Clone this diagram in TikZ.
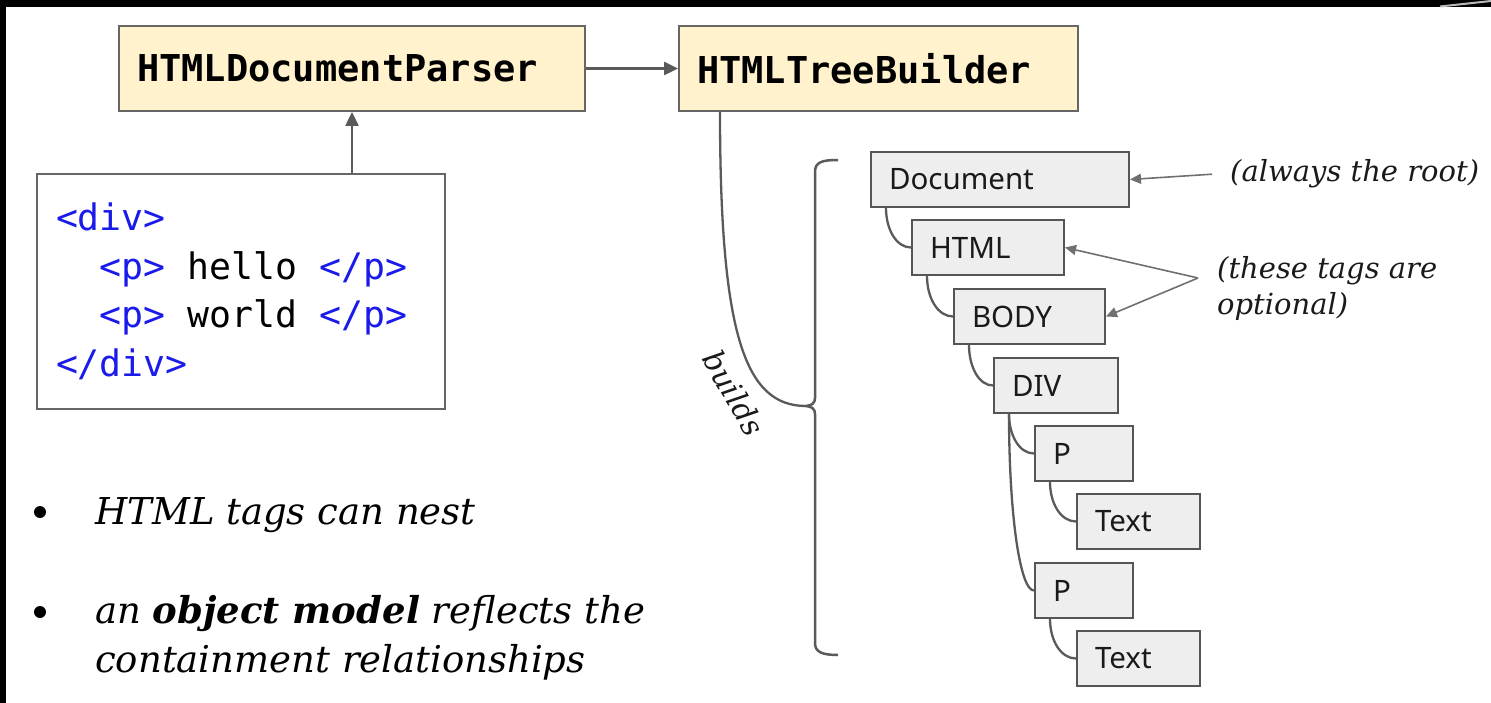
\documentclass[tikz,border=0pt]{standalone}
\usepackage{fontspec}
\usetikzlibrary{arrows.meta,calc}

\newfontfamily\codefont{DejaVu Sans Mono}
\newfontfamily\treefont{Noto Sans}
\newfontfamily\notefont{DejaVu Serif}

\definecolor{hdrfill}{HTML}{FFF2CC}
\definecolor{hdrline}{HTML}{666666}
\definecolor{treefill}{HTML}{EEEEEE}
\definecolor{treeline}{HTML}{555555}
\definecolor{linkgray}{HTML}{5A5A5A}
\definecolor{notegray}{HTML}{707070}
\definecolor{tagblue}{HTML}{1A1AEB}
\definecolor{inkdark}{HTML}{1A1A1A}

\newcommand{\tagc}[1]{\textcolor{tagblue}{#1}}
% one monospace cell of blank space
\newcommand{\msp}{\hspace*{0.602em}}

\tikzset{
  hdr/.style={draw=hdrline, fill=hdrfill, line width=2pt, anchor=north west,
    inner xsep=18pt, inner ysep=0pt, minimum height=85pt, align=left,
    text=black, font=\codefont\bfseries\fontsize{37}{40}\selectfont},
  codebox/.style={draw=hdrline, fill=white, line width=2pt, anchor=north west,
    inner xsep=19pt, inner ysep=0pt, minimum width=408pt, minimum height=235pt,
    text width=370pt, align=left, text=black,
    font=\codefont\fontsize{36.5}{48.5}\selectfont},
  tbox/.style={draw=treeline, fill=treefill, line width=2pt, anchor=north west,
    inner xsep=18pt, inner ysep=0pt, minimum height=55pt, align=left,
    text=inkdark, font=\treefont\fontsize{29.5}{34}\selectfont},
  note/.style={inner sep=0pt, text=inkdark,
    font=\notefont\itshape\fontsize{29}{36}\selectfont},
  bullettext/.style={inner sep=0pt, text=black, align=left,
    font=\notefont\itshape\fontsize{37}{49}\selectfont},
  dot/.style={circle, fill=black, inner sep=0pt, minimum size=12pt},
  arrow/.style={draw=linkgray, line width=2.5pt,
    -{Triangle[length=14pt,width=13pt]}},
  notearrow/.style={draw=notegray, line width=1.6pt,
    -{Triangle[length=11pt,width=10pt]}},
  link/.style={draw=linkgray, line width=2.3pt},
}

\begin{document}
\begin{tikzpicture}[x=1pt, y=-1pt]
  \useasboundingbox (0,0) rectangle (1491,703);
  % slide frame
  \fill[black] (0,0) rectangle (1491,703);
  \fill[white] (6,7) rectangle (1491,703);
  \draw[gray!55, line width=2pt] (1440,6.5) .. controls (1465,4) .. (1491,1);

  % parser pipeline
  \node[hdr, minimum width=466pt, text width=430pt] (parser) at (118,25) {HTMLDocumentParser};
  \node[hdr, minimum width=399pt, text width=363pt] (builder) at (678,25) {HTMLTreeBuilder};
  \node[codebox] (code) at (36,173) {%
    \tagc{<div>}\\
    \msp\msp\tagc{<p>}\msp hello\msp\tagc{</p>}\\
    \msp\msp\tagc{<p>}\msp world\msp\tagc{</p>}\\
    \tagc{</div>}};

  \draw[arrow] ([xshift=316pt]code.north west) -- ([xshift=316pt]code.north west |- parser.south);
  \draw[arrow] (parser.east) -- (builder.west);

  % document tree
  \node[tbox, minimum width=258pt, text width=222pt] (doc)  at (870,151) {Document};
  \node[tbox, minimum width=152pt, text width=116pt] (html) at (911,219) {HTML};
  \node[tbox, minimum width=151pt, text width=115pt] (body) at (953,288) {BODY};
  \node[tbox, minimum width=124pt, text width=88pt]  (div)  at (993,357) {DIV};
  \node[tbox, minimum width=98pt,  text width=62pt]  (p1)   at (1034,425) {P};
  \node[tbox, minimum width=123pt, text width=87pt]  (t1)   at (1076,493) {Text};
  \node[tbox, minimum width=98pt,  text width=62pt]  (p2)   at (1034,562) {P};
  \node[tbox, minimum width=123pt, text width=87pt]  (t2)   at (1076,630) {Text};

  \foreach \p/\c in {doc/html, html/body, body/div, div/p1, div/p2, p1/t1, p2/t2} {
    \coordinate (s) at ([xshift=16pt]\p.south west);
    \draw[link] (s) .. controls ($(s)!0.55!(s |- \c.west)$) and ($(s |- \c.west)!0.42!(\c.west)$) .. (\c.west);
  }

  % bracket grouping the tree
  \coordinate (tip) at (806,406);
  \draw[link, line width=2.5pt]
    (838,160) .. controls (822,160) and (815,162) .. (815,172)
    -- (815,398) .. controls (815,403) and (812,405.5) .. (tip)
    .. controls (812,406.5) and (815,409) .. (815,414)
    -- (815,643) .. controls (815,652) and (822,655) .. (838,655);

  % builder to tree
  \draw[link] ([xshift=42pt]builder.south west) .. controls (720,335) and (745,406) .. (tip);
  \node[note, rotate=-60, font=\notefont\itshape\fontsize{30}{36}\selectfont] (builds) at (734,393) {builds};

  % annotations
  \node[note, anchor=base west] (root) at (1230,182) {(always the root)};
  \draw[notearrow] ([xshift=-18pt]root.west) -- (doc.east);

  \node[note, anchor=north west, align=left] (opt) at (1217,256) {(these tags are\\optional)};
  \coordinate (fork) at (1198,278);
  \draw[notearrow] (fork) -- (html.east);
  \draw[notearrow] (fork) -- (body.east);

  % bullet list
  \node[dot] (d1) at (40,512) {};
  \node[bullettext, anchor=base west] (b1) at (95,524) {HTML tags can nest};
  \node[dot] (d2) at (40,612) {};
  \node[bullettext, anchor=north west] (b2) at (95,595)
    {an \textbf{object model} reflects the\\containment relationships};
\end{tikzpicture}
\end{document}
